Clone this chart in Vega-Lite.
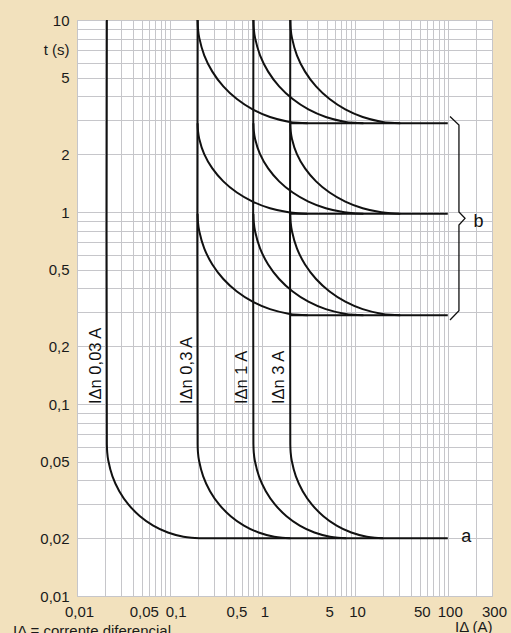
{
  "$schema": "https://vega.github.io/schema/vega-lite/v6.json",
  "width": 415,
  "height": 576,
  "autosize": {"type": "none"},
  "padding": {"left": 77, "top": 20, "right": 19, "bottom": 37},
  "background": "#f2e1bd",
  "title": {"text": "IΔ = corrente diferencial", "orient": "bottom", "anchor": "start", "frame": "group", "dx": -64, "offset": -10, "fontSize": 15, "fontWeight": "normal", "font": "Liberation Sans", "color": "#1a1a1a", "baseline": "top"},
  "config": {
    "view": {"fill": "white", "stroke": "#c4c4c8", "strokeWidth": 1},
    "font": "Liberation Sans"
  },
  "datasets": {
    "curves": [
      {"c": "A1", "i": 0, "x": 0.021, "t": 10},
      {"c": "A1", "i": 1, "x": 0.021, "t": 0.0618},
      {"c": "A1", "i": 2, "x": 0.02118, "t": 0.05602},
      {"c": "A1", "i": 3, "x": 0.02175, "t": 0.05082},
      {"c": "A1", "i": 4, "x": 0.02413, "t": 0.04202},
      {"c": "A1", "i": 5, "x": 0.02859, "t": 0.03516},
      {"c": "A1", "i": 6, "x": 0.03599, "t": 0.02992},
      {"c": "A1", "i": 7, "x": 0.04779, "t": 0.02604},
      {"c": "A1", "i": 8, "x": 0.06641, "t": 0.02326},
      {"c": "A1", "i": 9, "x": 0.09555, "t": 0.02141},
      {"c": "A1", "i": 10, "x": 0.1408, "t": 0.02035},
      {"c": "A1", "i": 11, "x": 0.1718, "t": 0.02009},
      {"c": "A1", "i": 12, "x": 0.21, "t": 0.02},
      {"c": "A1", "i": 13, "x": 0.4, "t": 0.02},
      {"c": "A1", "i": 14, "x": 100, "t": 0.02},

      {"c": "A2", "i": 0, "x": 0.2, "t": 10},
      {"c": "A2", "i": 1, "x": 0.2, "t": 0.0618},
      {"c": "A2", "i": 2, "x": 0.2018, "t": 0.05602},
      {"c": "A2", "i": 3, "x": 0.2071, "t": 0.05082},
      {"c": "A2", "i": 4, "x": 0.2298, "t": 0.04202},
      {"c": "A2", "i": 5, "x": 0.2723, "t": 0.03516},
      {"c": "A2", "i": 6, "x": 0.3428, "t": 0.02992},
      {"c": "A2", "i": 7, "x": 0.4551, "t": 0.02604},
      {"c": "A2", "i": 8, "x": 0.6325, "t": 0.02326},
      {"c": "A2", "i": 9, "x": 0.91, "t": 0.02141},
      {"c": "A2", "i": 10, "x": 1.341, "t": 0.02035},
      {"c": "A2", "i": 11, "x": 1.636, "t": 0.02009},
      {"c": "A2", "i": 12, "x": 2.0, "t": 0.02},

      {"c": "A3", "i": 0, "x": 0.8, "t": 10},
      {"c": "A3", "i": 1, "x": 0.8, "t": 0.0618},
      {"c": "A3", "i": 2, "x": 0.807, "t": 0.05602},
      {"c": "A3", "i": 3, "x": 0.8285, "t": 0.05082},
      {"c": "A3", "i": 4, "x": 0.9191, "t": 0.04202},
      {"c": "A3", "i": 5, "x": 1.089, "t": 0.03516},
      {"c": "A3", "i": 6, "x": 1.371, "t": 0.02992},
      {"c": "A3", "i": 7, "x": 1.821, "t": 0.02604},
      {"c": "A3", "i": 8, "x": 2.53, "t": 0.02326},
      {"c": "A3", "i": 9, "x": 3.64, "t": 0.02141},
      {"c": "A3", "i": 10, "x": 5.365, "t": 0.02035},
      {"c": "A3", "i": 11, "x": 6.545, "t": 0.02009},
      {"c": "A3", "i": 12, "x": 8.0, "t": 0.02},

      {"c": "A4", "i": 0, "x": 2, "t": 10},
      {"c": "A4", "i": 1, "x": 2, "t": 0.0618},
      {"c": "A4", "i": 2, "x": 2.018, "t": 0.05602},
      {"c": "A4", "i": 3, "x": 2.071, "t": 0.05082},
      {"c": "A4", "i": 4, "x": 2.298, "t": 0.04202},
      {"c": "A4", "i": 5, "x": 2.723, "t": 0.03516},
      {"c": "A4", "i": 6, "x": 3.428, "t": 0.02992},
      {"c": "A4", "i": 7, "x": 4.551, "t": 0.02604},
      {"c": "A4", "i": 8, "x": 6.325, "t": 0.02326},
      {"c": "A4", "i": 9, "x": 9.1, "t": 0.02141},
      {"c": "A4", "i": 10, "x": 13.41, "t": 0.02035},
      {"c": "A4", "i": 11, "x": 16.36, "t": 0.02009},
      {"c": "A4", "i": 12, "x": 20, "t": 0.02},

      {"c": "B1a", "i": 0, "x": 0.2, "t": 10},
      {"c": "B1a", "i": 1, "x": 0.2021, "t": 8.976},
      {"c": "B1a", "i": 2, "x": 0.2085, "t": 8.067},
      {"c": "B1a", "i": 3, "x": 0.2358, "t": 6.549},
      {"c": "B1a", "i": 4, "x": 0.2885, "t": 5.385},
      {"c": "B1a", "i": 5, "x": 0.3791, "t": 4.512},
      {"c": "B1a", "i": 6, "x": 0.5309, "t": 3.875},
      {"c": "B1a", "i": 7, "x": 0.7844, "t": 3.423},
      {"c": "B1a", "i": 8, "x": 1.208, "t": 3.125},
      {"c": "B1a", "i": 9, "x": 1.914, "t": 2.955},
      {"c": "B1a", "i": 10, "x": 2.424, "t": 2.914},
      {"c": "B1a", "i": 11, "x": 3.076, "t": 2.9},

      {"c": "B1b", "i": 0, "x": 0.8, "t": 10},
      {"c": "B1b", "i": 1, "x": 0.8083, "t": 8.976},
      {"c": "B1b", "i": 2, "x": 0.8339, "t": 8.067},
      {"c": "B1b", "i": 3, "x": 0.9434, "t": 6.549},
      {"c": "B1b", "i": 4, "x": 1.154, "t": 5.385},
      {"c": "B1b", "i": 5, "x": 1.516, "t": 4.512},
      {"c": "B1b", "i": 6, "x": 2.124, "t": 3.875},
      {"c": "B1b", "i": 7, "x": 3.138, "t": 3.423},
      {"c": "B1b", "i": 8, "x": 4.832, "t": 3.125},
      {"c": "B1b", "i": 9, "x": 7.656, "t": 2.955},
      {"c": "B1b", "i": 10, "x": 9.696, "t": 2.914},
      {"c": "B1b", "i": 11, "x": 12.3, "t": 2.9},

      {"c": "B1c", "i": 0, "x": 2, "t": 10},
      {"c": "B1c", "i": 1, "x": 2.021, "t": 8.976},
      {"c": "B1c", "i": 2, "x": 2.085, "t": 8.067},
      {"c": "B1c", "i": 3, "x": 2.358, "t": 6.549},
      {"c": "B1c", "i": 4, "x": 2.885, "t": 5.385},
      {"c": "B1c", "i": 5, "x": 3.791, "t": 4.512},
      {"c": "B1c", "i": 6, "x": 5.309, "t": 3.875},
      {"c": "B1c", "i": 7, "x": 7.844, "t": 3.423},
      {"c": "B1c", "i": 8, "x": 12.08, "t": 3.125},
      {"c": "B1c", "i": 9, "x": 19.14, "t": 2.955},
      {"c": "B1c", "i": 10, "x": 24.24, "t": 2.914},
      {"c": "B1c", "i": 11, "x": 30.76, "t": 2.9},

      {"c": "B2a", "i": 0, "x": 0.2, "t": 2.9},
      {"c": "B2a", "i": 1, "x": 0.2021, "t": 2.638},
      {"c": "B2a", "i": 2, "x": 0.2085, "t": 2.402},
      {"c": "B2a", "i": 3, "x": 0.2358, "t": 2.001},
      {"c": "B2a", "i": 4, "x": 0.2885, "t": 1.686},
      {"c": "B2a", "i": 5, "x": 0.3791, "t": 1.444},
      {"c": "B2a", "i": 6, "x": 0.5309, "t": 1.263},
      {"c": "B2a", "i": 7, "x": 0.7844, "t": 1.133},
      {"c": "B2a", "i": 8, "x": 1.208, "t": 1.046},
      {"c": "B2a", "i": 9, "x": 1.914, "t": 0.9963},
      {"c": "B2a", "i": 10, "x": 2.424, "t": 0.984},
      {"c": "B2a", "i": 11, "x": 3.076, "t": 0.98},

      {"c": "B2b", "i": 0, "x": 0.8, "t": 2.9},
      {"c": "B2b", "i": 1, "x": 0.8083, "t": 2.638},
      {"c": "B2b", "i": 2, "x": 0.8339, "t": 2.402},
      {"c": "B2b", "i": 3, "x": 0.9434, "t": 2.001},
      {"c": "B2b", "i": 4, "x": 1.154, "t": 1.686},
      {"c": "B2b", "i": 5, "x": 1.516, "t": 1.444},
      {"c": "B2b", "i": 6, "x": 2.124, "t": 1.263},
      {"c": "B2b", "i": 7, "x": 3.138, "t": 1.133},
      {"c": "B2b", "i": 8, "x": 4.832, "t": 1.046},
      {"c": "B2b", "i": 9, "x": 7.656, "t": 0.9963},
      {"c": "B2b", "i": 10, "x": 9.696, "t": 0.984},
      {"c": "B2b", "i": 11, "x": 12.3, "t": 0.98},

      {"c": "B2c", "i": 0, "x": 2, "t": 2.9},
      {"c": "B2c", "i": 1, "x": 2.021, "t": 2.638},
      {"c": "B2c", "i": 2, "x": 2.085, "t": 2.402},
      {"c": "B2c", "i": 3, "x": 2.358, "t": 2.001},
      {"c": "B2c", "i": 4, "x": 2.885, "t": 1.686},
      {"c": "B2c", "i": 5, "x": 3.791, "t": 1.444},
      {"c": "B2c", "i": 6, "x": 5.309, "t": 1.263},
      {"c": "B2c", "i": 7, "x": 7.844, "t": 1.133},
      {"c": "B2c", "i": 8, "x": 12.08, "t": 1.046},
      {"c": "B2c", "i": 9, "x": 19.14, "t": 0.9963},
      {"c": "B2c", "i": 10, "x": 24.24, "t": 0.984},
      {"c": "B2c", "i": 11, "x": 30.76, "t": 0.98},

      {"c": "B3a", "i": 0, "x": 0.2, "t": 0.98},
      {"c": "B3a", "i": 1, "x": 0.2021, "t": 0.8812},
      {"c": "B3a", "i": 2, "x": 0.2085, "t": 0.7932},
      {"c": "B3a", "i": 3, "x": 0.2358, "t": 0.6462},
      {"c": "B3a", "i": 4, "x": 0.2885, "t": 0.5332},
      {"c": "B3a", "i": 5, "x": 0.3791, "t": 0.448},
      {"c": "B3a", "i": 6, "x": 0.5309, "t": 0.3856},
      {"c": "B3a", "i": 7, "x": 0.7844, "t": 0.3414},
      {"c": "B3a", "i": 8, "x": 1.208, "t": 0.3121},
      {"c": "B3a", "i": 9, "x": 1.914, "t": 0.2954},
      {"c": "B3a", "i": 10, "x": 2.424, "t": 0.2913},
      {"c": "B3a", "i": 11, "x": 3.076, "t": 0.29},

      {"c": "B3b", "i": 0, "x": 0.8, "t": 0.98},
      {"c": "B3b", "i": 1, "x": 0.8083, "t": 0.8812},
      {"c": "B3b", "i": 2, "x": 0.8339, "t": 0.7932},
      {"c": "B3b", "i": 3, "x": 0.9434, "t": 0.6462},
      {"c": "B3b", "i": 4, "x": 1.154, "t": 0.5332},
      {"c": "B3b", "i": 5, "x": 1.516, "t": 0.448},
      {"c": "B3b", "i": 6, "x": 2.124, "t": 0.3856},
      {"c": "B3b", "i": 7, "x": 3.138, "t": 0.3414},
      {"c": "B3b", "i": 8, "x": 4.832, "t": 0.3121},
      {"c": "B3b", "i": 9, "x": 7.656, "t": 0.2954},
      {"c": "B3b", "i": 10, "x": 9.696, "t": 0.2913},
      {"c": "B3b", "i": 11, "x": 12.3, "t": 0.29},

      {"c": "B3c", "i": 0, "x": 2, "t": 0.98},
      {"c": "B3c", "i": 1, "x": 2.021, "t": 0.8812},
      {"c": "B3c", "i": 2, "x": 2.085, "t": 0.7932},
      {"c": "B3c", "i": 3, "x": 2.358, "t": 0.6462},
      {"c": "B3c", "i": 4, "x": 2.885, "t": 0.5332},
      {"c": "B3c", "i": 5, "x": 3.791, "t": 0.448},
      {"c": "B3c", "i": 6, "x": 5.309, "t": 0.3856},
      {"c": "B3c", "i": 7, "x": 7.844, "t": 0.3414},
      {"c": "B3c", "i": 8, "x": 12.08, "t": 0.3121},
      {"c": "B3c", "i": 9, "x": 19.14, "t": 0.2954},
      {"c": "B3c", "i": 10, "x": 24.24, "t": 0.2913},
      {"c": "B3c", "i": 11, "x": 30.76, "t": 0.29},

      {"c": "H1", "i": 0, "x": 2, "t": 2.9},
      {"c": "H1", "i": 1, "x": 100, "t": 2.9},
      {"c": "H2", "i": 0, "x": 2, "t": 0.98},
      {"c": "H2", "i": 1, "x": 100, "t": 0.98},
      {"c": "H3", "i": 0, "x": 2, "t": 0.29},
      {"c": "H3", "i": 1, "x": 100, "t": 0.29}
    ],
    "brace": [
      {"i": 0, "x": 105.7, "t": 3.14},
      {"i": 1, "x": 132, "t": 2.84},
      {"i": 2, "x": 132, "t": 1.0},
      {"i": 3, "x": 153.5, "t": 0.927},
      {"i": 4, "x": 132, "t": 0.855},
      {"i": 5, "x": 132, "t": 0.306},
      {"i": 6, "x": 105.7, "t": 0.274}
    ],
    "labels": [
      {"label": "IΔn 0,03 A", "x": 0.021, "t": 0.1},
      {"label": "IΔn 0,3 A", "x": 0.2, "t": 0.1},
      {"label": "IΔn 1 A", "x": 0.8, "t": 0.1},
      {"label": "IΔn 3 A", "x": 2, "t": 0.1}
    ],
    "letters": [
      {"label": "a", "x": 158, "t": 0.019},
      {"label": "b", "x": 215, "t": 0.84}
    ]
  },
  "layer": [
    {
      "data": {"name": "curves"},
      "mark": {"type": "line", "interpolate": "catmull-rom", "color": "#111111", "strokeWidth": 2},
      "encoding": {
        "x": {
          "field": "x", "type": "quantitative",
          "scale": {"type": "log", "domain": [0.01, 300], "nice": false},
          "axis": {
            "values": [0.01,0.02,0.03,0.04,0.05,0.06,0.07,0.08,0.09,0.1,0.2,0.3,0.4,0.5,0.6,0.7,0.8,0.9,1,2,3,4,5,6,7,8,9,10,20,30,40,50,60,70,80,90,100,200,300],
            "labelExpr": "indexof([0.01,0.05,0.1,0.5,1,5,10,50,100,300], datum.value) >= 0 ? replace(toString(datum.value), '.', ',') : ''",
            "labelOffset": {"condition": {"test": "datum.value == 0.1", "value": 6}, "value": 2},
            "grid": true, "gridColor": "#c6c6ca", "gridWidth": 1,
            "ticks": false, "tickSize": 0, "domain": false,
            "labelFontSize": 15, "labelColor": "#1a1a1a", "labelFont": "Liberation Sans", "labelPadding": 8,
            "labelOverlap": false, "labelFlush": false, "labelBound": false,
            "title": "IΔ (A)", "titleAnchor": "end", "titleAlign": "right", "titleFontSize": 15, "titleFontWeight": "normal",
            "titleColor": "#1a1a1a", "titleFont": "Liberation Sans", "titlePadding": 0
          }
        },
        "y": {
          "field": "t", "type": "quantitative",
          "scale": {"type": "log", "domain": [0.01, 10], "nice": false},
          "axis": {
            "values": [0.01,0.02,0.03,0.04,0.05,0.06,0.07,0.08,0.09,0.1,0.2,0.3,0.4,0.5,0.6,0.7,0.8,0.9,1,2,3,4,5,6,7,8,9,10],
            "labelExpr": "datum.value == 7 ? 't (s)' : (indexof([0.01,0.02,0.05,0.1,0.2,0.5,1,2,5,10], datum.value) >= 0 ? replace(toString(datum.value), '.', ',') : '')",
            "grid": true, "gridColor": "#c6c6ca", "gridWidth": 1,
            "ticks": false, "tickSize": 0, "domain": false,
            "labelFontSize": 15, "labelColor": "#1a1a1a", "labelFont": "Liberation Sans", "labelPadding": 8,
            "labelOverlap": false, "labelFlush": false, "labelBound": false,
            "title": null
          }
        },
        "detail": {"field": "c", "type": "nominal"},
        "order": {"field": "i", "type": "quantitative"}
      }
    },
    {
      "data": {"name": "brace"},
      "mark": {"type": "line", "color": "#111111", "strokeWidth": 1.3},
      "encoding": {
        "x": {"field": "x", "type": "quantitative"},
        "y": {"field": "t", "type": "quantitative"},
        "order": {"field": "i", "type": "quantitative"}
      }
    },
    {
      "data": {"name": "labels"},
      "mark": {"type": "text", "angle": 270, "align": "left", "baseline": "bottom", "dy": -3, "fontSize": 16.5, "font": "Liberation Sans", "color": "#111111"},
      "encoding": {
        "x": {"field": "x", "type": "quantitative"},
        "y": {"field": "t", "type": "quantitative"},
        "text": {"field": "label"}
      }
    },
    {
      "data": {"name": "letters"},
      "mark": {"type": "text", "align": "center", "baseline": "alphabetic", "fontSize": 18, "font": "Liberation Sans", "color": "#111111"},
      "encoding": {
        "x": {"field": "x", "type": "quantitative"},
        "y": {"field": "t", "type": "quantitative"},
        "text": {"field": "label"}
      }
    }
  ]
}
